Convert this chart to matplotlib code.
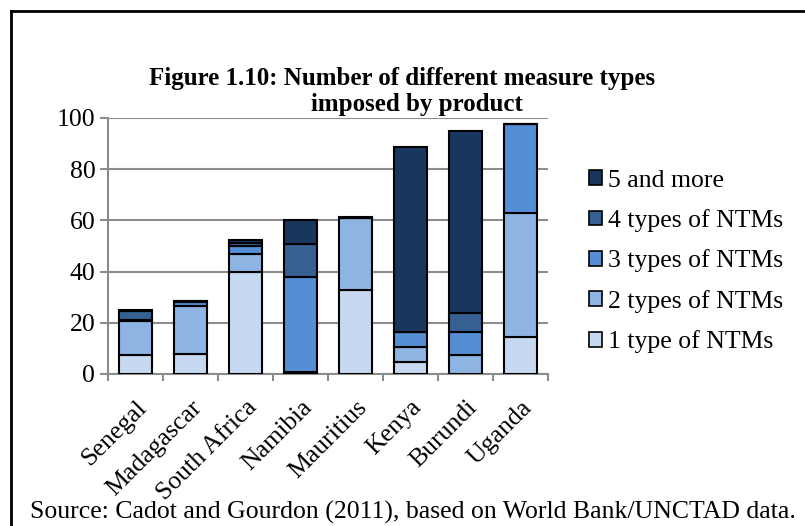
import numpy as np
import matplotlib.pyplot as plt
from matplotlib.patches import Patch
from matplotlib.lines import Line2D
from matplotlib.transforms import ScaledTranslation

plt.rcParams['font.family'] = ['Liberation Serif', 'DejaVu Serif']

countries = ['Senegal', 'Madagascar', 'South Africa', 'Namibia', 'Mauritius',
             'Kenya', 'Burundi', 'Uganda']
labels = ['1 type of NTMs', '2 types of NTMs', '3 types of NTMs',
          '4 types of NTMs', '5 and more']
type1 = [7.5, 7.7, 39.7, 0.8, 32.8, 4.8, 0.0, 14.5]
type2 = [13.0, 18.8, 7.3, 0.0, 28.2, 5.7, 7.4, 48.3]
type3 = [0.6, 1.5, 3.1, 37.1, 0.0, 5.8, 9.0, 34.7]
type4 = [3.4, 0.3, 0.9, 12.9, 0.0, 0.2, 7.6, 0.0]
type5 = [0.3, 0.0, 1.5, 9.4, 0.3, 72.2, 71.0, 0.0]
colors = ['#C6D9F1', '#8EB4E3', '#558ED5', '#376092', '#17375E']
fs = 18.5

fig = plt.figure(figsize=(8.05, 5.26), dpi=100)
ax = fig.add_axes([0.134, 0.289, 0.547, 0.487])

x = np.arange(len(countries))
bottom = np.zeros(len(countries))
for vals, col in zip([type1, type2, type3, type4, type5], colors):
    ax.bar(x, vals, 0.61, bottom=bottom, color=col, edgecolor='black',
           linewidth=1.5, zorder=3)
    bottom += np.array(vals)

ax.set_xlim(-0.5, len(countries) - 0.5)
ax.set_ylim(0, 100)
ax.set_yticks(np.arange(0, 101, 20))
ax.yaxis.grid(True, color='#8c8c8c', linewidth=1.5, zorder=0)
ax.set_xticks(x)
ax.set_xticklabels(countries, rotation=45, ha='right', va='top',
                   rotation_mode='anchor', fontsize=fs)
offset = ScaledTranslation(0.03, 0, fig.dpi_scale_trans)
for lab in ax.get_xticklabels():
    lab.set_transform(lab.get_transform() + offset)
ax.set_xticks(np.arange(-0.5, len(countries)), minor=True)
ax.tick_params(axis='x', which='major', length=0, pad=16)
ax.tick_params(axis='x', which='minor', length=5, color='#8c8c8c', width=1.5)
ax.tick_params(axis='y', length=6, color='#8c8c8c', width=1.5, labelsize=fs, pad=3)
for side in ['top', 'right']:
    ax.spines[side].set_visible(False)
for side in ['left', 'bottom']:
    ax.spines[side].set_color('#8c8c8c')
    ax.spines[side].set_linewidth(1.5)

handles = [Patch(facecolor=c, edgecolor='black', linewidth=1.2, label=l)
           for c, l in zip(colors, labels)][::-1]
fig.legend(handles=handles, loc='center left', bbox_to_anchor=(0.703, 0.503),
           frameon=False, fontsize=fs, handlelength=0.5, handleheight=0.5,
           handletextpad=0.25, labelspacing=0.68)

fig.text(0.499, 0.851, 'Figure 1.10: Number of different measure types',
         ha='center', va='center', fontsize=18, fontweight='bold')
fig.text(0.518, 0.802, 'imposed by product',
         ha='center', va='center', fontsize=18, fontweight='bold')
fig.text(0.513, 0.026, 'Source: Cadot and Gourdon (2011), based on World Bank/UNCTAD data.',
         ha='center', va='center', fontsize=fs)

# frame around the figure (left and top edges visible)
fig.add_artist(Line2D([0.0137, 0.0137], [0, 0.979], color='black', lw=2))
fig.add_artist(Line2D([0.0137, 1.0], [0.979, 0.979], color='black', lw=2))

fig.savefig('out.png', dpi=100)
